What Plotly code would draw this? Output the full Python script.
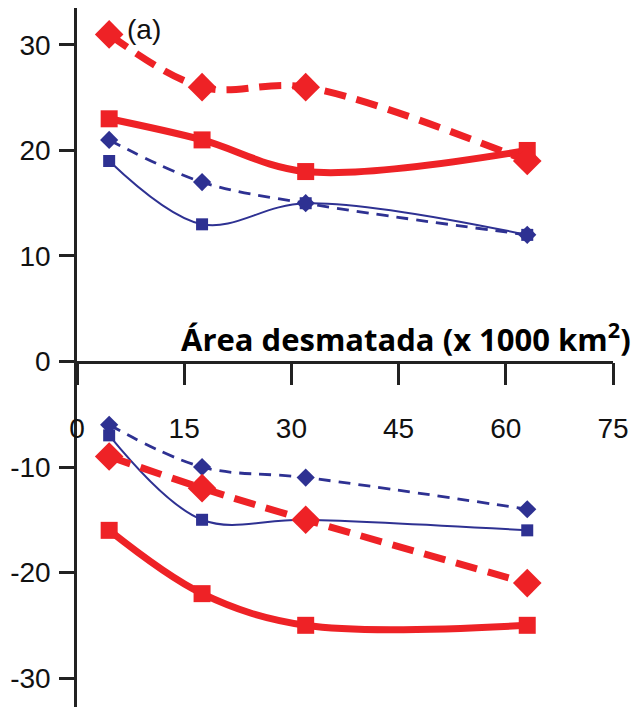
import plotly.graph_objects as go

x_vals = [4.5, 17.5, 32, 63]
top_red_dash = [31, 26, 26, 19]
top_red_solid = [23, 21, 18, 20]
top_blue_dash = [21, 17, 15, 12]
top_blue_solid = [19, 13, 15, 12]
bot_blue_dash = [-6, -10, -11, -14]
bot_blue_solid = [-7, -15, -15, -16]
bot_red_dash = [-9, -12, -15, -21]
bot_red_solid = [-16, -22, -25, -25]
x_ticks = [0, 15, 30, 45, 60, 75]
y_ticks = [-30, -20, -10, 0, 10, 20, 30]
y_tick_text = ["-30", "-20", "-10", "0", "10", "20", "30"]

RED = "#EE2226"
BLUE = "#2E3192"

fig = go.Figure()

def add(y, color, width, dash, symbol, size):
    fig.add_trace(go.Scatter(
        x=x_vals, y=y, mode="lines+markers",
        line=dict(color=color, width=width, dash=dash, shape="spline", smoothing=1.0),
        marker=dict(color=color, symbol=symbol, size=size, line=dict(width=0)),
        showlegend=False, cliponaxis=False))

for y in (top_blue_solid, bot_blue_solid):
    add(y, BLUE, 2, "solid", "square", 12)
for y in (top_blue_dash, bot_blue_dash):
    add(y, BLUE, 2.8, "12px,8px", "diamond", 14)
for y in (top_red_solid, bot_red_solid):
    add(y, RED, 7, "solid", "square", 17)
for y in (top_red_dash, bot_red_dash):
    add(y, RED, 7, "22px,11px", "diamond", 22)

ymin, ymax = -33.5, 33.5
tick_font = dict(family="Liberation Sans Narrow, Liberation Sans, Arial", size=28, color="#111111")

fig.update_layout(
    width=644, height=707,
    margin=dict(l=69, r=39, t=0, b=0),
    paper_bgcolor="white", plot_bgcolor="white",
    xaxis=dict(range=[0, 75], tickvals=x_ticks, ticks="outside", ticklen=22, tickwidth=2.5,
               tickcolor="#222222", showline=True, linecolor="#222222", linewidth=2.5,
               showgrid=False, zeroline=False, anchor="free", automargin=False,
               position=(0 - ymin) / (ymax - ymin), tickfont=tick_font,
               ticklabelstandoff=19),
    yaxis=dict(range=[ymin, ymax], tickvals=y_ticks, ticktext=y_tick_text, ticks="outside",
               ticklen=15, tickwidth=2.5,
               tickcolor="#222222", showline=True, linecolor="#222222", linewidth=2.5,
               showgrid=False, zeroline=False, tickfont=tick_font, ticklabelstandoff=3,
               automargin=False),
    annotations=[
        dict(text="<b>Área desmatada (x 1000 km<sup>2</sup>)</b>", xref="paper", yref="paper",
             x=(625 - 69) / (605 - 69), y=(2.3 - ymin) / (ymax - ymin), xanchor="right",
             yanchor="middle", showarrow=False,
             font=dict(family="Open Sans, Lato", size=31, color="black")),
        dict(text="(a)", xref="paper", yref="paper", x=(117 - 69) / (605 - 69),
             y=(31.5 - ymin) / (ymax - ymin), xanchor="left", yanchor="middle",
             showarrow=False, font=tick_font),
    ],
)

fig.write_html("out.html")
